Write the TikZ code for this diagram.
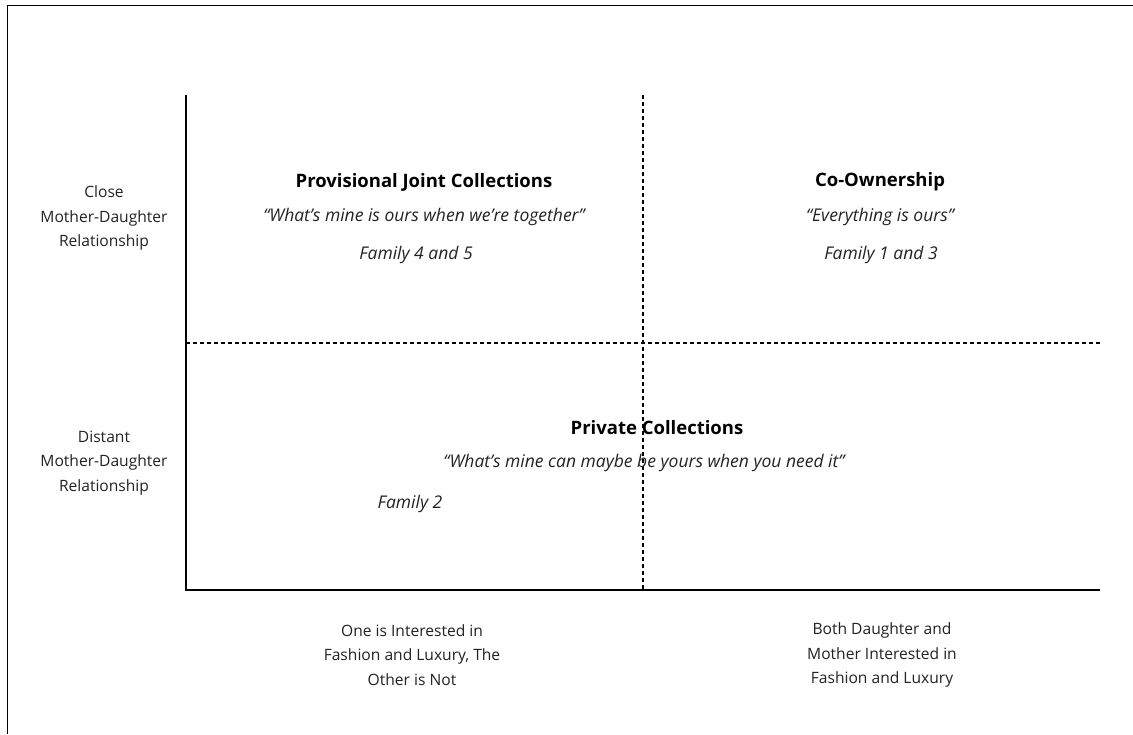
\documentclass[tikz,border=0pt]{standalone}
\usepackage{fontspec}
\setmainfont{Open Sans}
\definecolor{txt}{HTML}{222222}
\begin{document}
\begin{tikzpicture}[x=1pt,y=-1pt,
  lbl/.style={align=center,text=txt,font=\fontsize{15.6}{24.5}\selectfont,inner sep=0pt},
  ttl/.style={text=black,font=\fontsize{18.5}{20}\selectfont\bfseries,inner sep=0pt},
  quo/.style={text=txt,font=\fontsize{17.5}{19}\selectfont\itshape,inner sep=0pt},
  fam/.style={text=txt,font=\fontsize{17.5}{19}\selectfont\itshape,inner sep=0pt},
  axis/.style={line width=1.4pt,black},
  grid/.style={line width=1.3pt,black,dash pattern=on 4pt off 3pt}]
\useasboundingbox (0,0) rectangle (1133,734);
% frame
\coordinate (fTL) at (7,5);
\coordinate (fTR) at (1133,5);
\coordinate (fBL) at (7,734);
\draw[line width=1pt] (fTR) -- (fTL) -- (fBL);
% axes
\coordinate (O) at (186,590);
\coordinate (Ytop) at (186,95);
\coordinate (Xend) at (1100,590);
\coordinate (Vtop) at (643,95);
\coordinate (Vbot) at (643,590);
\coordinate (Hl) at (186,343);
\coordinate (Hr) at (1100,343);
\draw[grid] (Vtop) -- (Vbot);
\draw[grid] (Hl) -- (Hr);
\draw[axis] (Ytop) -- (O) -- (Xend);
% left labels
\node[lbl] (close) at (104,218) {Close\\Mother-Daughter\\Relationship};
\node[lbl] (distant) at (104,463) {Distant\\Mother-Daughter\\Relationship};
% bottom labels
\node[lbl] (one) at (412,655) {One is Interested in\\Fashion and Luxury, The\\Other is Not};
\node[lbl] (both) at (882,655) {Both Daughter and\\Mother Interested in\\Fashion and Luxury};
% quadrant texts
\node[ttl] (pjc) at (424,182) {Provisional Joint Collections};
\node[quo] (pjcq) at (424,217) {“What’s mine is ours when we’re together”};
\node[fam] (f45) at (416,255) {Family 4 and 5};
\node[ttl] (co) at (880,182) {Co-Ownership};
\node[quo] (coq) at (880,217) {“Everything is ours”};
\node[fam] (f13) at (881,255) {Family 1 and 3};
\node[ttl] (pc) at (657,428) {Private Collections};
\node[quo] (pcq) at (644,463) {“What’s mine can maybe be yours when you need it”};
\node[fam] (f2) at (410,504) {Family 2};
\end{tikzpicture}
\end{document}
